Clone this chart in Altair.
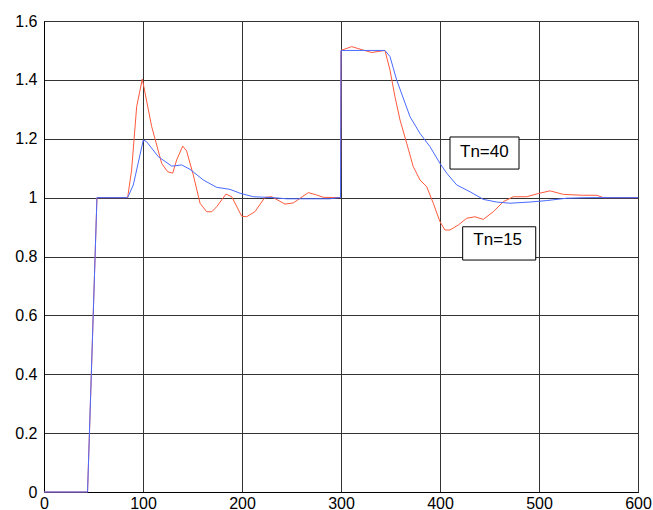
import altair as alt
import pandas as pd

# Series Tn=15 (red)
t_15 = [0, 44, 53.5, 84.5, 88.5, 93.6, 99.3, 108.8, 118.9, 124.9, 130, 134, 140.1, 144,
        150.8, 157.6, 164.3, 169.4, 174.4, 183.8, 189.6, 199.7, 204.7, 213, 223.2, 230,
        243.4, 251.8, 267, 275.4, 282.1, 299.5, 300, 310.8, 322.6, 331, 344.4, 349.5,
        354.5, 359.6, 366.4, 373, 379.8, 386.6, 393.2, 400, 405, 410, 418.5, 427, 435.4,
        443.7, 453.8, 463.9, 474, 487.6, 499.3, 511.1, 524.6, 544.8, 558.3, 565, 600]
v_15 = [0, 0, 1, 1, 1.094, 1.309, 1.403, 1.241, 1.116, 1.088, 1.083, 1.128, 1.175, 1.159,
        1.077, 0.981, 0.952, 0.952, 0.969, 1.012, 1.003, 0.937, 0.935, 0.952, 1.001, 1.003,
        0.978, 0.982, 1.017, 1.009, 1.001, 1.0, 1.5, 1.513, 1.501, 1.493, 1.5, 1.433,
        1.343, 1.264, 1.184, 1.105, 1.06, 1.037, 0.981, 0.918, 0.89, 0.89, 0.907, 0.93, 0.935,
        0.926, 0.952, 0.986, 1.003, 1.003, 1.014, 1.023, 1.011, 1.008, 1.008, 1.0, 1.0]

# Series Tn=40 (blue)
t_40 = [0, 44, 53.5, 84.5, 90.2, 100.3, 103.6, 115.5, 129, 139.1, 147.5, 160.9, 174.4,
        187.9, 198, 211.4, 231.6, 245.1, 288.9, 297.3, 299.5, 300, 344.4, 349.5, 356.2,
        369.7, 379.8, 389.9, 400, 406.8, 416.9, 430.3, 443.8, 457.2, 470.7, 490.9, 507.8,
        528, 550, 600]
v_40 = [0, 0, 1, 1, 1.043, 1.196, 1.19, 1.139, 1.107, 1.111, 1.096, 1.06, 1.035,
        1.028, 1.015, 1.003, 1.0, 0.996, 0.996, 1.0, 1.0, 1.5, 1.5, 1.479, 1.4,
        1.275, 1.218, 1.173, 1.116, 1.083, 1.043, 1.02, 0.994, 0.985, 0.981, 0.985, 0.99,
        0.998, 1.0, 1.0]

series_names = ["Tn=15", "Tn=40"]
series_colors = ["#ff5a3c", "#4a6aff"]

x_ticks = [0, 100, 200, 300, 400, 500, 600]
y_ticks = [0, 0.2, 0.4, 0.6, 0.8, 1, 1.2, 1.4, 1.6]

# annotation labels with their boxes (data units)
ann_label = ["Tn=40", "Tn=15"]
ann_tx = [444.8, 458.3]
ann_ty = [1.156, 0.856]
ann_x1 = [410.1, 422.9]
ann_x2 = [479.8, 496.7]
ann_y1 = [1.097, 0.788]
ann_y2 = [1.206, 0.901]

df = pd.concat([
    pd.DataFrame({"t": t_15, "v": v_15, "s": series_names[0]}),
    pd.DataFrame({"t": t_40, "v": v_40, "s": series_names[1]}),
], ignore_index=True)

ann = pd.DataFrame({"label": ann_label, "tx": ann_tx, "ty": ann_ty,
                    "x1": ann_x1, "x2": ann_x2, "y1": ann_y1, "y2": ann_y2})

xscale = alt.Scale(domain=[0, 600], nice=False, zero=False)
yscale = alt.Scale(domain=[0, 1.6], nice=False)

xaxis = alt.Axis(values=x_ticks, title=None, grid=True, ticks=False, labelPadding=3,
                 format="d", labelFlush=False)
yaxis = alt.Axis(values=y_ticks, title=None, grid=True, ticks=False, labelPadding=7,
                 format="~g")

lines = alt.Chart(df).mark_line(strokeWidth=1, interpolate="linear").encode(
    x=alt.X("t:Q", scale=xscale, axis=xaxis),
    y=alt.Y("v:Q", scale=yscale, axis=yaxis),
    color=alt.Color("s:N", scale=alt.Scale(domain=series_names, range=series_colors), legend=None),
    order=alt.Order("t:Q"),
)

boxes = alt.Chart(ann).mark_rect(fill="white", stroke="black", strokeWidth=1).encode(
    x=alt.X("x1:Q", scale=xscale, title=None),
    x2="x2:Q",
    y=alt.Y("y1:Q", scale=yscale, title=None),
    y2="y2:Q",
)

texts = alt.Chart(ann).mark_text(font="Liberation Sans", fontSize=17, color="black",
                                 align="center", baseline="middle").encode(
    x=alt.X("tx:Q", scale=xscale, title=None),
    y=alt.Y("ty:Q", scale=yscale, title=None),
    text="label:N",
)

chart = alt.layer(lines, boxes, texts).properties(
    width=594, height=471,
    autosize=alt.AutoSizeParams(type="none"),
    padding={"left": 44, "top": 21, "right": 15, "bottom": 18},
    background="white",
).configure_view(
    stroke="black", strokeWidth=1
).configure_axis(
    labelFont="Liberation Sans", labelFontSize=16, labelColor="black",
    domainColor="black", domainWidth=1,
    gridColor="#333333", gridWidth=1, gridOpacity=1,
)

chart.save("out.html", embed_options={"renderer": "svg", "actions": False})
